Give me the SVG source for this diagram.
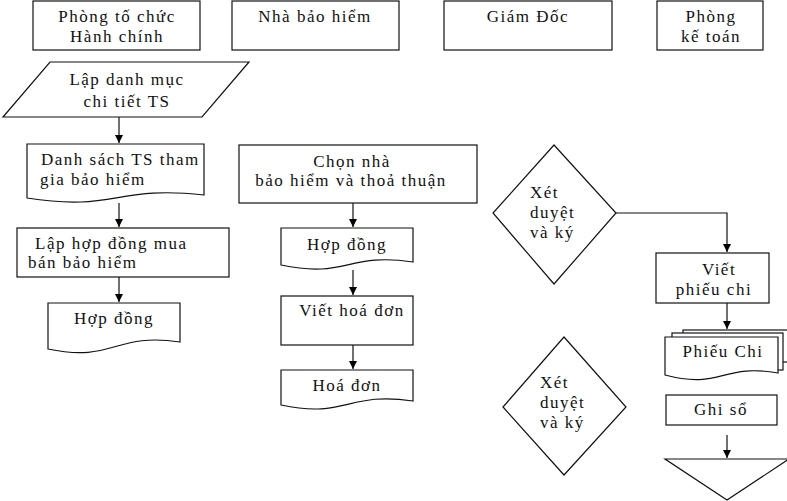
<svg xmlns="http://www.w3.org/2000/svg" width="787" height="501" viewBox="0 0 787 501">
  <defs>
    <marker id="arrow" markerUnits="userSpaceOnUse" markerWidth="9" markerHeight="9" refX="8" refY="4" orient="auto">
      <path d="M0,0 L8,4 L0,8 Z" fill="#000"/>
    </marker>
    <style>
      .shape { fill: #fff; stroke: #111; stroke-width: 1.2; }
      .line { fill: none; stroke: #111; stroke-width: 1.2; }
      .arr { marker-end: url(#arrow); }
      text { font-family: "Liberation Serif", "Times New Roman", serif; font-size: 17px; letter-spacing: 1.5px; fill: #111; }
      .c { text-anchor: middle; }
    </style>
  </defs>
  <rect width="787" height="501" fill="#fff"/>

  <!-- swimlane headers -->
  <g id="lane-hanh-chinh">
    <rect class="shape" x="33" y="1" width="167" height="49"/>
    <text class="c" x="117" y="22">Phòng tố chức</text>
    <text class="c" x="117" y="42">Hành chính</text>
  </g>
  <g id="lane-bao-hiem">
    <rect class="shape" x="232" y="1" width="167" height="49"/>
    <text class="c" x="315" y="22">Nhà bảo hiểm</text>
  </g>
  <g id="lane-giam-doc">
    <rect class="shape" x="444" y="1" width="168" height="49"/>
    <text class="c" x="528" y="22">Giám Đốc</text>
  </g>
  <g id="lane-ke-toan">
    <rect class="shape" x="657" y="1" width="106" height="49"/>
    <text class="c" x="711" y="22">Phòng</text>
    <text class="c" x="711" y="42">kế toán</text>
  </g>

  <!-- Phòng tổ chức hành chính column -->
  <g id="lap-danh-muc">
    <polygon class="shape" points="50,62 249,62 202,117 3,117"/>
    <text class="c" x="127" y="85">Lập danh mục</text>
    <text class="c" x="127" y="107">chi tiết TS</text>
  </g>
  <g id="danh-sach-ts">
    <path class="shape" d="M27,144 H204 V195 C115.5,185 115.5,212 27,198 Z"/>
    <text x="41" y="165">Danh sách TS tham</text>
    <text x="40" y="185">gia bảo hiểm</text>
  </g>
  <g id="lap-hop-dong">
    <rect class="shape" x="17" y="228" width="212" height="49"/>
    <text x="35" y="249">Lập hợp đồng mua</text>
    <text x="28" y="268">bán bảo hiểm</text>
  </g>
  <g id="hop-dong-1">
    <path class="shape" d="M48,303 H180 V342 C114,332 114,363 48,349 Z"/>
    <text class="c" x="114" y="324">Hợp đồng</text>
  </g>

  <!-- Nhà bảo hiểm column -->
  <g id="chon-nha-bao-hiem">
    <rect class="shape" x="239" y="145" width="238" height="58"/>
    <text class="c" x="352" y="167">Chọn nhà</text>
    <text class="c" x="351" y="186">bảo hiểm và thoả thuận</text>
  </g>
  <g id="hop-dong-2">
    <path class="shape" d="M281,228 H413 V262 C347,252 347,279 281,265 Z"/>
    <text class="c" x="347" y="250">Hợp đồng</text>
  </g>
  <g id="viet-hoa-don">
    <rect class="shape" x="281" y="296" width="132" height="49"/>
    <text class="c" x="352" y="316">Viết hoá đơn</text>
  </g>
  <g id="hoa-don">
    <path class="shape" d="M281,370 H413 V401 C347,391 347,419 281,405 Z"/>
    <text class="c" x="347" y="391">Hoá đơn</text>
  </g>

  <!-- Giám đốc column -->
  <g id="xet-duyet-1">
    <polygon class="shape" points="554,145 616,213 554,284 493,213"/>
    <text x="530" y="198">Xét</text>
    <text x="530" y="218">duyệt</text>
    <text x="530" y="238">và ký</text>
  </g>
  <g id="xet-duyet-2">
    <polygon class="shape" points="564,337 626,407 564,475 503,407"/>
    <text x="540" y="388">Xét</text>
    <text x="540" y="408">duyệt</text>
    <text x="540" y="428">và ký</text>
  </g>

  <!-- Phòng kế toán column -->
  <g id="viet-phieu-chi">
    <rect class="shape" x="656" y="253" width="113" height="50"/>
    <text class="c" x="719" y="275">Viết</text>
    <text class="c" x="714" y="295">phiếu chi</text>
  </g>
  <g id="phieu-chi">
    <rect class="shape" x="683" y="330" width="112" height="32"/>
    <rect class="shape" x="672" y="333" width="111" height="37"/>
    <path class="shape" d="M665,337 H778 V373 C721.5,363 721.5,390 665,375 Z"/>
    <text class="c" x="723" y="357">Phiếu Chi</text>
  </g>
  <g id="ghi-so">
    <rect class="shape" x="666" y="395" width="111" height="30"/>
    <text class="c" x="721" y="415">Ghi sổ</text>
  </g>
  <g id="luu-tru">
    <polygon class="shape" points="665,459 789,459 727,500"/>
  </g>

  <!-- connectors -->
  <g id="connectors">
    <path class="line arr" d="M119,117 V143"/>
    <path class="line arr" d="M119,203 V227"/>
    <path class="line arr" d="M119,277 V302"/>
    <path class="line arr" d="M353,203 V227"/>
    <path class="line arr" d="M353,270 V295"/>
    <path class="line arr" d="M353,345 V369"/>
    <path class="line arr" d="M616,213 H727 V252"/>
    <path class="line arr" d="M727,303 V329"/>
    <path class="line arr" d="M727,435 V458"/>
  </g>
</svg>
